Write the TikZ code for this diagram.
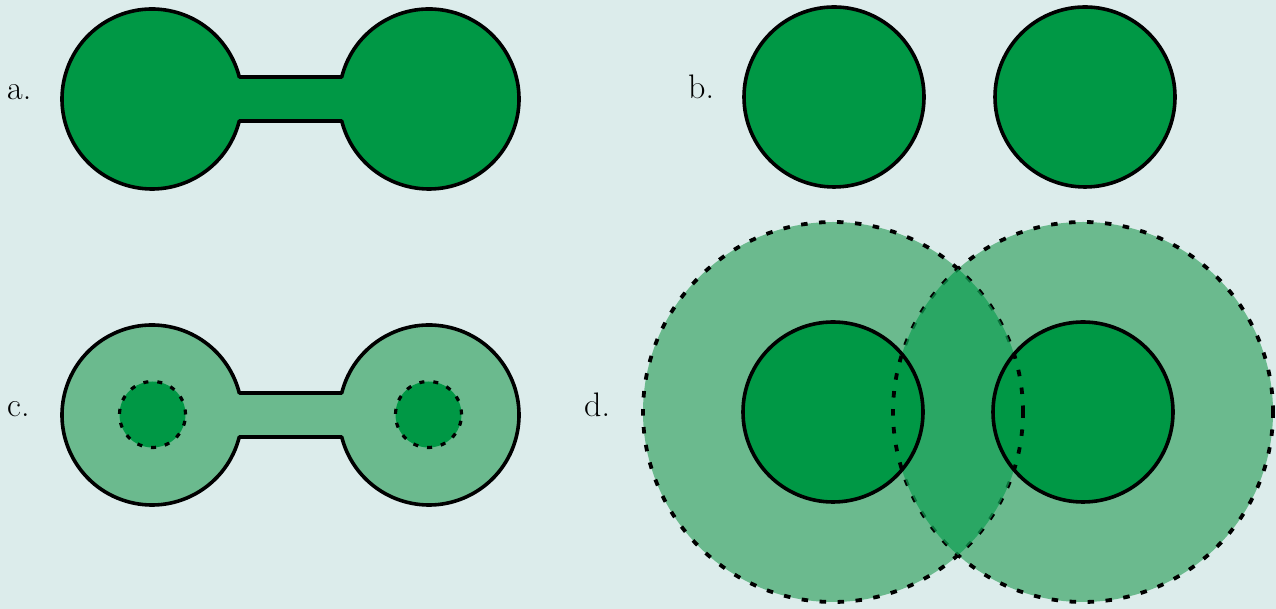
\documentclass[tikz,border=0pt]{standalone}
\definecolor{bgc}{RGB}{220,236,235}
\definecolor{dkg}{RGB}{0,152,69}
\definecolor{ltg}{RGB}{107,186,142}
\definecolor{lensc}{RGB}{17,160,85}
\tikzset{
  solidout/.style={draw=black,line width=3.6pt,line join=round},
  bigdash/.style={draw=black,line width=3.8pt,dash pattern=on 6.5pt off 11.5pt},
  smalldash/.style={draw=black,line width=3.2pt,dash pattern=on 5pt off 9pt},
  lbl/.style={anchor=base west,inner sep=0pt,font=\fontsize{34}{34}\selectfont}
}
\begin{document}
\begin{tikzpicture}[x=1pt,y=1pt]
\fill[bgc] (0,0) rectangle (1276,609);
\useasboundingbox (0,0) rectangle (1276,609);

% ---- panel a: dumbbell
\path[fill=dkg,solidout]
  (239.27,532) -- (341.73,532)
  arc[start angle=165.85,end angle=-165.85,radius=90]
  -- (239.27,488)
  arc[start angle=-14.15,end angle=-345.85,radius=90] -- cycle;
\node[lbl] (la) at (7,509) {a.};

% ---- panel b: two separate circles
\path[fill=dkg,solidout] (834,512) circle[radius=90];
\path[fill=dkg,solidout] (1085,512) circle[radius=90];
\node[lbl] (lb) at (688,510) {b.};

% ---- panel c: dumbbell with light fill and dashed cores
\path[fill=ltg,solidout]
  (239.27,216) -- (341.73,216)
  arc[start angle=165.85,end angle=-165.85,radius=90]
  -- (239.27,172)
  arc[start angle=-14.15,end angle=-345.85,radius=90] -- cycle;
\path[fill=dkg,smalldash] (152.5,194.5) circle[radius=33];
\path[fill=dkg,smalldash] (428.5,194.5) circle[radius=33];
\node[lbl] (lc) at (7,192) {c.};

% ---- panel d: overlapping zones
\fill[ltg] (833,197) circle[radius=190];
\fill[ltg] (1083,197) circle[radius=190];
\path[bigdash] (833,197) circle[radius=190];
\path[bigdash] (1083,197) circle[radius=190];
\begin{scope}
  \clip (833,197) circle[radius=190];
  \fill[lensc,fill opacity=0.72] (1083,197) circle[radius=190];
\end{scope}
\fill[dkg] (833,197) circle[radius=90];
\fill[dkg] (1083,197) circle[radius=90];
\begin{scope}
  \clip (833,197) circle[radius=90] (1083,197) circle[radius=90];
  \path[bigdash] (833,197) circle[radius=190];
  \path[bigdash] (1083,197) circle[radius=190];
\end{scope}
\path[solidout] (833,197) circle[radius=90];
\path[solidout] (1083,197) circle[radius=90];
\node[lbl] (ld) at (584,192) {d.};
\end{tikzpicture}
\end{document}
